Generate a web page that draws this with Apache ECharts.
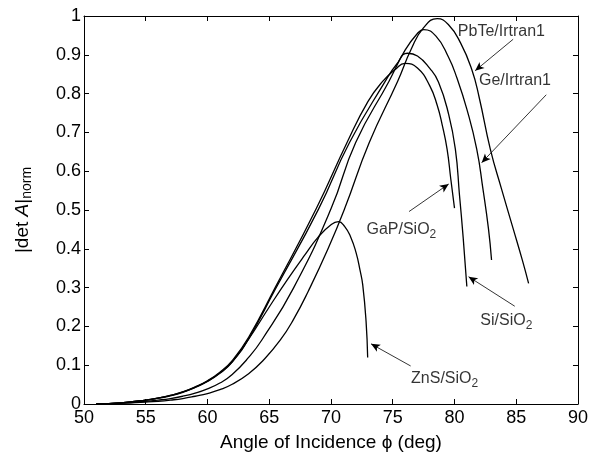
<!DOCTYPE html>
<html><head><meta charset="utf-8">
<script src="https://cdn.jsdelivr.net/npm/echarts/dist/echarts.min.js"></script>
<style>html,body{margin:0;padding:0;background:#fff}#c{width:591px;height:457px}</style>
</head><body><div id="c"></div>
<script>
// angle (deg), |det A|norm
const pbteIrtran1 = [[51,0],[53,0.002],[55,0.005],[56,0.007],[57,0.01],[58,0.014],[59,0.02],[60,0.027],[61,0.037],[62,0.051],[63.33,0.078],[64.5,0.112],[65.9,0.165],[67,0.22],[68.15,0.29],[69.76,0.4],[71.1,0.503],[73.1,0.674],[75.4,0.832],[76.5,0.915],[77.5,0.97],[78.6,0.993],[79.5,0.978],[80.5,0.93],[81.4,0.862],[82,0.79],[82.9,0.657],[83.8,0.555],[84.75,0.452],[85.5,0.37],[86,0.311]];
const geIrtran1 = [[51,0],[53,0.002],[55,0.007],[56,0.01],[57,0.014],[58,0.02],[59,0.028],[60,0.039],[61,0.054],[62,0.076],[63.33,0.12],[64.4,0.165],[66.95,0.298],[70,0.503],[72,0.674],[74.7,0.832],[76,0.912],[77,0.955],[77.5,0.965],[78.5,0.948],[79.5,0.895],[80.2,0.84],[81,0.76],[81.8,0.657],[82.3,0.555],[82.75,0.452],[83,0.371]];
const siSiO2 = [[51,0],[53,0.003],[55,0.01],[56,0.015],[57,0.021],[58,0.03],[59,0.043],[60,0.058],[61,0.079],[62,0.108],[63.33,0.168],[65.48,0.295],[69,0.503],[71.5,0.674],[74.4,0.832],[75.3,0.875],[76.2,0.904],[77,0.897],[78,0.865],[78.7,0.83],[79.5,0.75],[80.07,0.657],[80.4,0.54],[80.7,0.43],[81,0.303]];
const gapSiO2 = [[51,0],[53,0.003],[55,0.01],[56,0.015],[57,0.022],[58,0.031],[59,0.044],[60,0.06],[61,0.082],[62,0.112],[63.33,0.172],[65.48,0.3],[68.8,0.503],[71.3,0.674],[73,0.78],[74.2,0.832],[75.2,0.862],[76,0.878],[77,0.866],[78,0.82],[78.6,0.77],[79,0.72],[79.4,0.657],[79.7,0.58],[80,0.505]];
const znsSiO2 = [[51,0],[53,0.003],[55,0.01],[56,0.015],[57,0.022],[58,0.031],[59,0.043],[60,0.059],[61,0.08],[62,0.109],[63.33,0.167],[65,0.25],[66.5,0.322],[67.9,0.385],[68.96,0.43],[70,0.462],[70.6,0.47],[71.1,0.458],[71.6,0.43],[72.03,0.39],[72.35,0.345],[72.57,0.307],[72.84,0.213],[72.97,0.12]];

const xTicks = {min:50, max:90, interval:5};
const yTicks = {min:0, max:1, interval:0.1};

// annotation labels: [text, x, y]  and arrows: [fromX, fromY, toX, toY]
const labelTexts = ['PbTe/Irtran1','Ge/Irtran1','GaP/SiO{sub|2}','Si/SiO{sub|2}','ZnS/SiO{sub|2}'];
const labelPos = [[83.8,0.961],[84.9,0.833],[75.7,0.449],[84.2,0.214],[79.2,0.066]];
const arrows = [[84.75,0.94,81.67,0.859],[87.43,0.797,82.2,0.622],[76.32,0.496,79.53,0.567],[84.88,0.252,81.14,0.328],[76.45,0.098,73.24,0.155]];

const FONT = 'Liberation Sans';
const chart = echarts.init(document.getElementById('c'), null, {renderer:'canvas'});
const lineSeries = [pbteIrtran1, geIrtran1, siSiO2, gapSiO2, znsSiO2].map(d => ({
  type:'line', data:d, showSymbol:false, smooth:0.5,
  lineStyle:{color:'#000', width:1.3}, silent:true, animation:false
}));
const axisCommon = {
  axisLine:{onZero:false, lineStyle:{color:'#000', width:1}},
  axisTick:{inside:true, length:5, lineStyle:{color:'#000'}},
  splitLine:{show:false}
};
chart.setOption({
  animation:false,
  grid:{left:84, right:9, top:16, bottom:50, containLabel:false},
  xAxis:[
    Object.assign({type:'value', position:'bottom', min:xTicks.min, max:xTicks.max, interval:xTicks.interval,
      axisLabel:{color:'#000', fontSize:18, fontFamily:FONT, margin:5},
      name:'Angle of Incidence \u03D5 (deg)', nameLocation:'middle', nameGap:29,
      nameTextStyle:{color:'#000', fontSize:19, fontFamily:FONT}}, axisCommon),
    Object.assign({type:'value', position:'top', min:xTicks.min, max:xTicks.max, interval:xTicks.interval,
      axisLabel:{show:false}}, axisCommon)
  ],
  yAxis:[
    Object.assign({type:'value', position:'left', min:yTicks.min, max:yTicks.max, interval:yTicks.interval,
      axisLabel:{color:'#000', fontSize:18, fontFamily:FONT, margin:3},
      name:'|det {i|A}|{sub|norm}', nameLocation:'middle', nameGap:50, nameRotate:90,
      nameTextStyle:{color:'#000', fontSize:19, fontFamily:FONT,
        rich:{i:{fontStyle:'italic', fontSize:19, fontFamily:FONT, color:'#000'},
              sub:{fontSize:14, fontFamily:FONT, color:'#000', padding:[9,0,0,0]}}}}, axisCommon),
    Object.assign({type:'value', position:'right', min:yTicks.min, max:yTicks.max, interval:yTicks.interval,
      axisLabel:{show:false}}, axisCommon)
  ],
  series: lineSeries.concat([{
    type:'scatter', symbolSize:0, silent:true,
    data: labelTexts.map((t,i) => ({name:t, value:labelPos[i]})),
    label:{show:true, position:'inside', color:'#000', fontSize:16, fontFamily:FONT,
      formatter:p => p.name,
      rich:{sub:{fontSize:12, fontFamily:FONT, color:'#000', padding:[10,0,0,0]}}},
    markLine:{silent:true, symbol:['none','arrow'], symbolSize:[6,9], label:{show:false},
      lineStyle:{color:'#000', width:0.8, type:'solid'},
      data: arrows.map(a => [{coord:[a[0],a[1]]},{coord:[a[2],a[3]]}])}
  }])
});
</script></body></html>
